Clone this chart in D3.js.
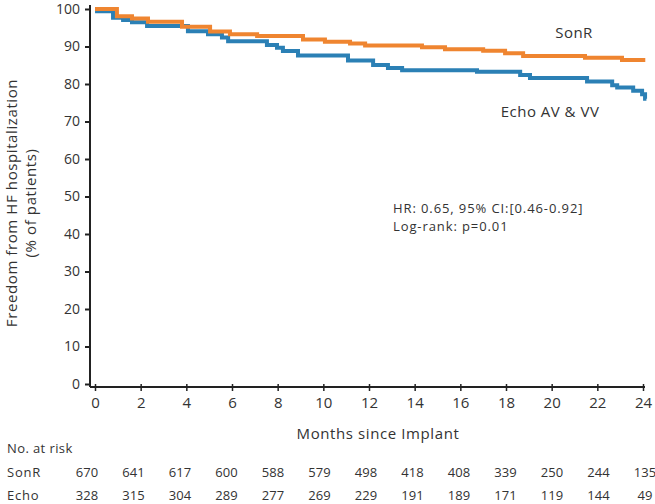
<!DOCTYPE html>
<html><head><meta charset="utf-8">
<script src="https://cdn.jsdelivr.net/npm/d3@7"></script>
<style>
body{margin:0;background:#fff;}
text{font-family:"Open Sans",Lato,sans-serif;fill:#333;}
</style></head>
<body><svg id="c" width="655" height="504"></svg>
<script>
const xTicks = [0,2,4,6,8,10,12,14,16,18,20,22,24];
const yTicks = [0,10,20,30,40,50,60,70,80,90,100];
const sonrMonths = [0,0.96,1.62,2.32,3.81,5.04,5.91,7.10,9.11,10.07,11.17,11.83,14.32,15.33,17.0,17.96,18.75,21.46,23.08,24.1];
const sonrValues = [100,98.1,97.5,96.6,95.3,94.0,93.3,92.8,91.9,91.3,90.8,90.3,89.8,89.3,88.9,88.2,87.5,87.0,86.4,86.4];
const echoMonths = [0,0.09,0.79,1.23,1.62,2.28,4.07,4.95,5.56,5.83,7.53,7.97,8.23,8.89,11.08,12.18,12.83,13.45,16.73,18.62,19.05,21.55,22.65,22.87,23.57,23.96,24.09,24.15];
const echoValues = [100,99.4,97.7,97.1,96.5,95.5,94.1,93.3,92.4,91.4,90.4,89.7,88.8,87.6,86.3,85.1,84.3,83.7,83.3,82.4,81.6,80.7,79.7,79.1,78.2,77.3,76.1,76.1];
const riskLabels = ["SonR","Echo"];
const sonrRisk = [670,641,617,600,588,579,498,418,408,339,250,244,135];
const echoRisk = [328,315,304,289,277,269,229,191,189,171,119,144,49];

const svg = d3.select("#c");
const x = d3.scaleLinear().domain([0,24]).range([95,643]);
const y = d3.scaleLinear().domain([0,100]).range([384,9]);
const xr = d3.scaleLinear().domain([0,24]).range([87,645]);

// y axis
const ya = svg.append("g").attr("transform","translate(90,0)")
  .call(d3.axisLeft(y).tickValues(yTicks).tickSize(5).tickPadding(5));
ya.select(".domain").attr("d","M0,5V387").attr("stroke","#222").attr("stroke-width",2);
ya.selectAll(".tick line").attr("stroke","#222").attr("stroke-width",2);
ya.selectAll("text").style("font-size","14px").attr("fill","#555");

// x axis
const xa = svg.append("g").attr("transform","translate(0,387)")
  .call(d3.axisBottom(x).tickValues(xTicks).tickSize(4).tickPadding(6));
xa.select(".domain").attr("d","M90,0H645").attr("stroke","#222").attr("stroke-width",2);
xa.selectAll(".tick line").attr("y1",-3).attr("stroke","#222").attr("stroke-width",1.5);
xa.selectAll("text").style("font-size","15px").attr("fill","#555");

// lines
const line = d3.line().x(d=>x(d[0])).y(d=>y(d[1])).curve(d3.curveStepAfter);
const sonr = sonrMonths.map((m,i)=>[m,sonrValues[i]]);
const echo = echoMonths.map((m,i)=>[m,echoValues[i]]);
svg.append("path").datum(echo).attr("d",line).attr("fill","none").attr("stroke","#2b80b5").attr("stroke-width",4);
svg.append("path").datum(sonr).attr("d",line).attr("fill","none").attr("stroke","#ef8530").attr("stroke-width",4);

// labels
svg.append("text").attr("x",574).attr("y",38).attr("text-anchor","middle").style("font-size","15px").style("letter-spacing","0.4px").text("SonR");
svg.append("text").attr("x",550).attr("y",117).attr("text-anchor","middle").style("font-size","15px").style("letter-spacing","0.5px").text("Echo AV & VV");
svg.append("text").attr("x",393).attr("y",213).style("font-size","13px").style("letter-spacing","0.9px").text("HR: 0.65, 95% CI:[0.46-0.92]");
svg.append("text").attr("x",393).attr("y",231).style("font-size","13px").style("letter-spacing","0.9px").text("Log-rank: p=0.01");

// y title
const yt = svg.append("text").attr("transform","translate(17,203) rotate(-90)").attr("text-anchor","middle").style("font-size","15px").style("letter-spacing","0.6px");
yt.append("tspan").attr("x",0).attr("dy",0).text("Freedom from HF hospitalization");
yt.append("tspan").attr("x",0).attr("dy",19).text("(% of patients)");

// x title
svg.append("text").attr("x",378).attr("y",439).attr("text-anchor","middle").style("font-size","15px").style("letter-spacing","0.6px").text("Months since Implant");

// at risk
svg.append("text").attr("x",7).attr("y",453).style("font-size","13px").style("letter-spacing","0.4px").text("No. at risk");
[sonrRisk, echoRisk].forEach((arr,r)=>{
  const yy = 477 + r*23;
  svg.append("text").attr("x",7).attr("y",yy).style("font-size","13px").style("letter-spacing","0.8px").text(riskLabels[r]);
  svg.selectAll(null).data(arr).enter().append("text")
    .attr("x",(d,i)=>xr(xTicks[i])).attr("y",yy).attr("text-anchor","middle")
    .style("font-size","13px").text(d=>d);
});
</script></body></html>
